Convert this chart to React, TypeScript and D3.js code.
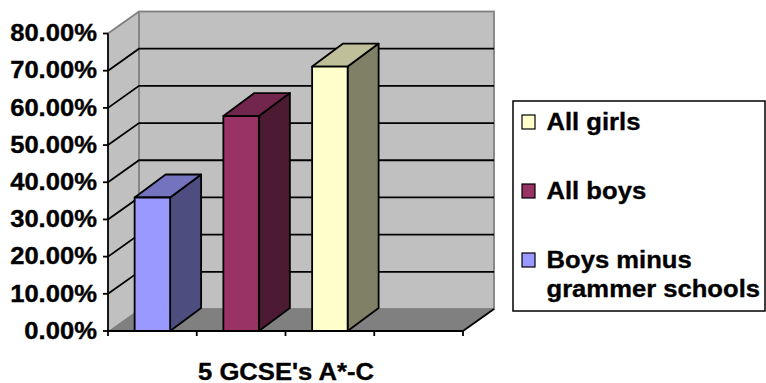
import React from "react";
import * as d3 from "d3";

// Data
const categoryLabel = "5 GCSE's A*-C";
const seriesNames = ["Boys minus grammer schools", "All boys", "All girls"];
const seriesValues = [0.359, 0.578, 0.711];
const frontColors = ["#9999FF", "#993366", "#FFFFCC"];
const yTicks = [0, 0.1, 0.2, 0.3, 0.4, 0.5, 0.6, 0.7, 0.8];
const slots = [0, 1, 2, 3];
// legend lists series in reverse order; last entry wraps to two lines
const legendOrder = [2, 1, 0];
const legendLines = [["All girls"], ["All boys"], ["Boys minus", "grammer schools"]];

const W = 766;
const H = 383;
const FONT = "'Liberation Sans', Arial, Helvetica, sans-serif";
const FS = 23.5;
const SX = 1.09;
const LW = 1.8;

// 3D depth offsets
const DX = 31;
const DY = -22;
const BDY = -23;

const y = d3.scaleLinear().domain([0, 0.8]).range([331, 33.5]);
const x = d3.scaleBand<number>().domain(slots).range([108, 463]).paddingInner(0);

const poly = (pts: [number, number][]) => "M" + pts.map((p) => p.join(",")).join("L") + "Z";

const textStyle = {
  fontFamily: FONT,
  fontWeight: "bold" as const,
  fontSize: FS,
  stroke: "#000",
  strokeWidth: 0.35,
};

export default function App() {
  const x0 = x.range()[0];
  const x1 = x.range()[1];
  const y0 = y(0);
  const yTop = y(0.8);
  const bw = x.bandwidth();
  const barW = bw * 0.4;

  const shade = (c: string, k: number) => {
    const col = d3.rgb(c);
    return d3.rgb(col.r * k, col.g * k, col.b * k).formatHex();
  };

  return (
    <svg
      width={W}
      height={H}
      style={{ position: "fixed", left: 0, top: 0, display: "block", background: "#fff" }}
    >
      {/* side wall */}
      <path
        d={poly([[x0, y0], [x0, yTop], [x0 + DX, yTop + DY], [x0 + DX, y0 + DY]])}
        fill="#C0C0C0"
      />
      {/* back wall */}
      <rect
        x={x0 + DX}
        y={yTop + DY}
        width={x1 - x0}
        height={y0 - yTop}
        fill="#C0C0C0"
        stroke="#808080"
        strokeWidth={LW}
      />
      {/* floor */}
      <path
        d={poly([[x0, y0], [x1, y0], [x1 + DX, y0 + DY], [x0 + DX, y0 + DY]])}
        fill="#808080"
      />
      {/* side wall top edge */}
      <line x1={x0} y1={yTop} x2={x0 + DX} y2={yTop + DY} stroke="#808080" strokeWidth={LW} />
      {/* gridlines */}
      {yTicks
        .filter((t) => t > 0 && t < 0.8)
        .map((t) => (
          <path
            key={t}
            d={`M${x0},${y(t)}L${x0 + DX},${y(t) + DY}L${x1 + DX},${y(t) + DY}`}
            fill="none"
            stroke="#000"
            strokeWidth={LW}
          />
        ))}
      {/* floor right edge */}
      <line x1={x1} y1={y0} x2={x1 + DX} y2={y0 + DY} stroke="#000" strokeWidth={LW} />

      {/* bars */}
      {seriesValues.map((v, i) => {
        const c = frontColors[i];
        const left = (x(slots[i]) as number) + (bw - barW) / 2;
        const right = left + barW;
        const top = y(v);
        return (
          <g key={seriesNames[i]} stroke="#000" strokeWidth={LW} strokeLinejoin="round">
            <path
              d={poly([[right, y0], [right, top], [right + DX, top + BDY], [right + DX, y0 + BDY]])}
              fill={shade(c, 0.5)}
            />
            <path
              d={poly([[left, top], [right, top], [right + DX, top + BDY], [left + DX, top + BDY]])}
              fill={shade(c, 0.75)}
            />
            <rect x={left} y={top} width={barW} height={y0 - top} fill={c} />
          </g>
        );
      })}

      {/* axes */}
      <line x1={x0} y1={yTop} x2={x0} y2={y0} stroke="#000" strokeWidth={LW} />
      <line x1={x0} y1={y0} x2={x1} y2={y0} stroke="#000" strokeWidth={LW} />
      {yTicks.map((t) => (
        <g key={t}>
          <line x1={x0 - 5} y1={y(t)} x2={x0} y2={y(t)} stroke="#000" strokeWidth={LW} />
          <text
            transform={`translate(${x0 - 11},${y(t) + 7.8}) scale(${SX},1)`}
            textAnchor="end"
            {...textStyle}
          >
            {d3.format(".2%")(t)}
          </text>
        </g>
      ))}
      {[...slots, slots.length].map((s) => {
        const xx = s < slots.length ? (x(s) as number) : x1;
        return <line key={s} x1={xx} y1={y0} x2={xx} y2={y0 + 5} stroke="#000" strokeWidth={LW} />;
      })}
      <text
        transform={`translate(${(x0 + x1) / 2 + DX / 2 - 15},${380}) scale(${SX},1)`}
        textAnchor="middle"
        {...textStyle}
      >
        {categoryLabel}
      </text>

      {/* legend */}
      <rect x={513} y={101} width={252} height={210} fill="#fff" stroke="#000" strokeWidth={1.5} />
      {legendOrder.map((si, k) => {
        const base = 130 + k * 69;
        return (
          <g key={si}>
            <rect x={522} y={base - 15} width={13} height={14} fill={frontColors[si]} stroke="#000" strokeWidth={1.2} />
            {legendLines[k].map((ln, j) => (
              <text
                key={j}
                transform={`translate(546.5,${base + j * 29}) scale(${SX},1)`}
                {...textStyle}
              >
                {ln}
              </text>
            ))}
          </g>
        );
      })}
    </svg>
  );
}
